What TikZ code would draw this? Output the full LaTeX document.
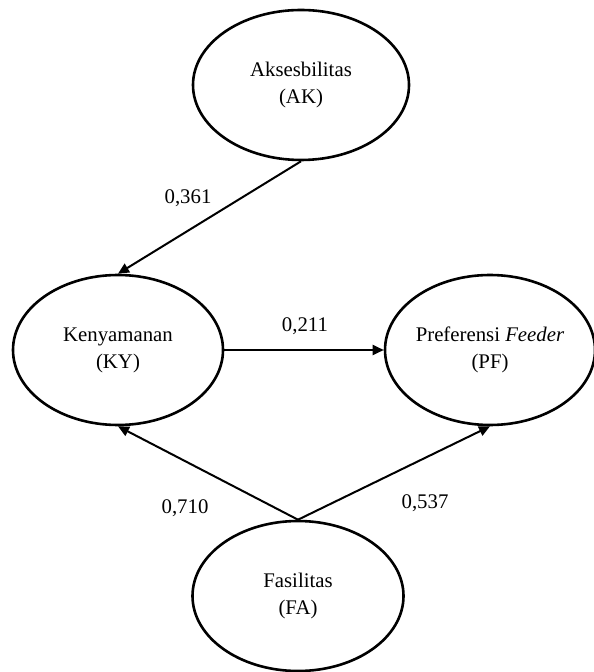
\documentclass[tikz,border=0pt]{standalone}
\usepackage{fontspec}
\setmainfont{Liberation Serif}
\usepackage{tikz}
\usetikzlibrary{shapes.geometric,arrows.meta}

\begin{document}
\begin{tikzpicture}[x=0.5pt,y=-0.5pt,
  var/.style={ellipse,draw,line width=1.3pt,inner sep=0pt,align=center,minimum width=#1*0.5pt,minimum height=75pt,font=\fontsize{10.4}{13.5}\selectfont},
  path/.style={draw,line width=1pt,-{Triangle[length=5.5pt,width=5pt]}},
  coef/.style={font=\fontsize{10.4}{12}\selectfont}]
\useasboundingbox (0,0) rectangle (593,672);
\node[var=216] (ak) at (301,85) {Aksesbilitas\\(AK)};
\node[var=210] (ky) at (118,350) {Kenyamanan\\(KY)};
\node[var=203] (pf) at (490,350) {Preferensi \textit{Feeder}\\(PF)};
\node[var=211] (fa) at (298,596) {Fasilitas\\(FA)};
\foreach \a/\b in %
{ak.south/ky.north,ky.east/pf.west,fa.north/ky.south,fa.north/pf.south} {
   \draw[path] (\a) -- (\b);
}
\node[coef] (c1) at (188,198) {0,361};
\node[coef] (c2) at (305,326) {0,211};
\node[coef] (c3) at (185,508) {0,710};
\node[coef] (c4) at (425,503) {0,537};
\end{tikzpicture}
\end{document}
